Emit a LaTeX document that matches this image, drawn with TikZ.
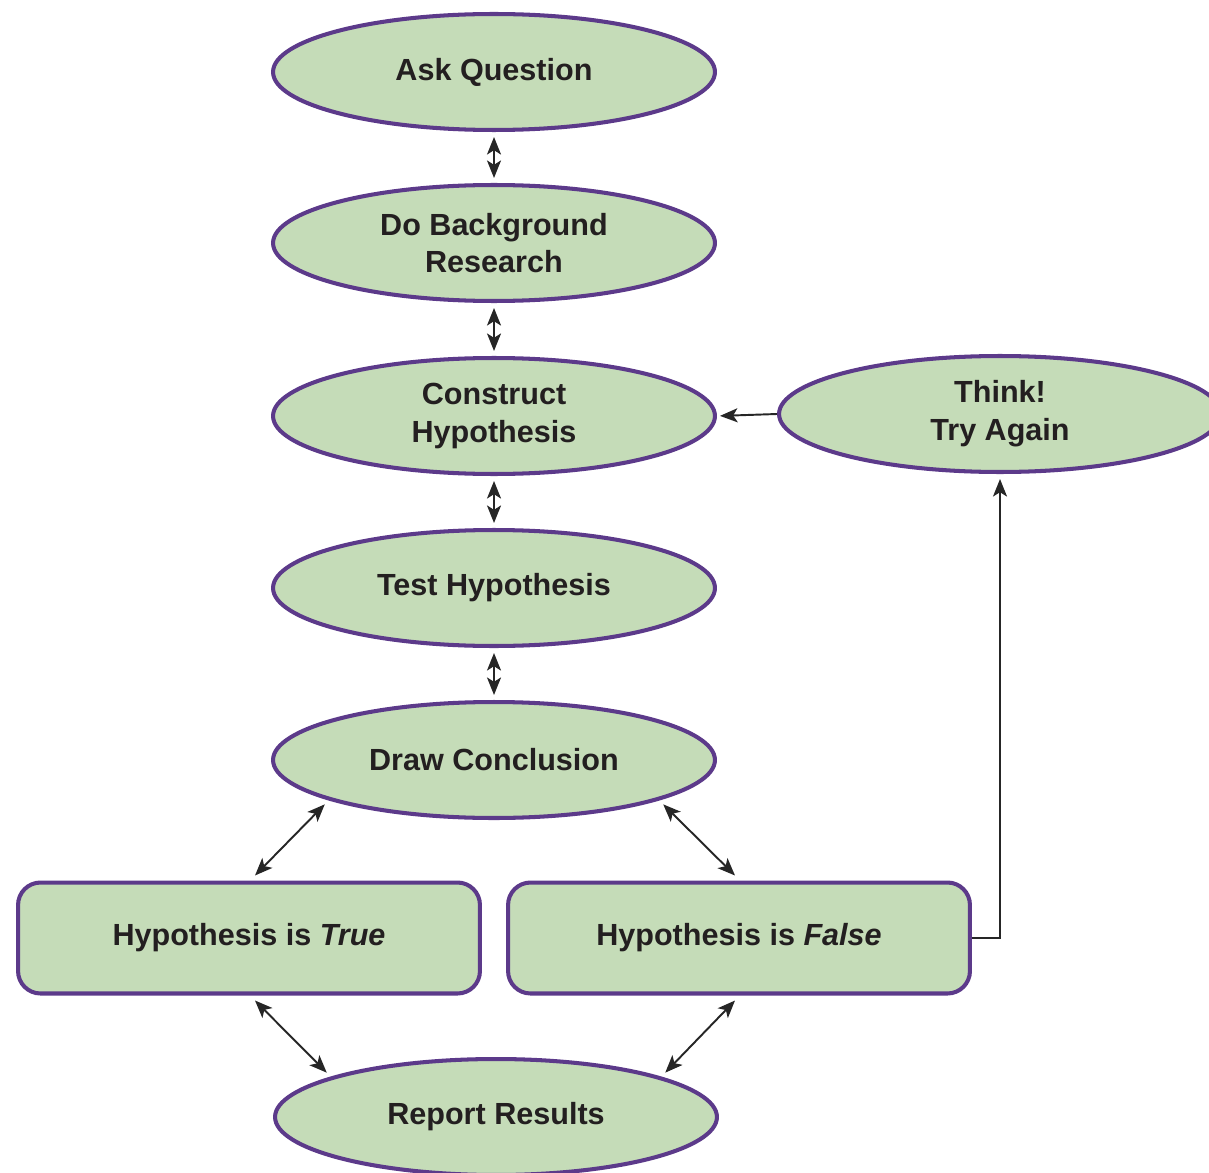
\documentclass[tikz,border=0pt]{standalone}
\usepackage{fontspec}
\setmainfont{Liberation Sans}
\usetikzlibrary{shapes.geometric, arrows.meta}
\definecolor{stagefill}{HTML}{C5DCB8}
\definecolor{stageline}{HTML}{5C3A8A}
\definecolor{inktext}{HTML}{231F20}
\tikzstyle{stage} = [ellipse, minimum width=8.84cm, minimum height=2.32cm, inner sep=0pt, text centered, align=center, draw=stageline, line width=2.3pt, fill=stagefill, text=inktext, font=\fontsize{17.4}{21.5}\selectfont\bfseries]
\tikzstyle{outcome} = [rectangle, rounded corners=0.45cm, minimum width=9.24cm, minimum height=2.22cm, text centered, draw=stageline, line width=2.3pt, fill=stagefill, text=inktext, font=\fontsize{17.4}{21.5}\selectfont\bfseries]
\tikzstyle{arrow} = [line width=1.1pt, draw=black!85, -{Stealth[length=10pt,width=8pt,inset=2.5pt]}]
\tikzstyle{dbl} = [line width=1.1pt, draw=black!85, {Stealth[length=10pt,width=8pt,inset=2.5pt]}-{Stealth[length=10pt,width=8pt,inset=2.5pt]}]

\begin{document}
\begin{tikzpicture}[x=0.02cm, y=-0.02cm]
\useasboundingbox (0,0) rectangle (1209,1172);

% objects
\node (ask) at (494,72) [stage] {Ask Question};
\node (research) at (494,243) [stage] {Do Background\\Research};
\node (construct) at (494,416) [stage] {Construct\\Hypothesis};
\node (test) at (494,588) [stage] {Test Hypothesis};
\node (conclude) at (494,760) [stage] {Draw Conclusion};
\node (think) at (1000,414) [stage] {Think!\\Try Again};

\node (true) at (249,938) [outcome] {Hypothesis is \textit{True}};
\node (false) at (739,938) [outcome] {Hypothesis is \textit{False}};

\node (report) at (496,1117) [stage] {Report Results};

% arrows
\draw [dbl, shorten <=0.1cm, shorten >=0.1cm] (ask) -- (research);
\draw [dbl, shorten <=0.1cm, shorten >=0.1cm] (research) -- (construct);
\draw [dbl, shorten <=0.1cm, shorten >=0.1cm] (construct) -- (test);
\draw [dbl, shorten <=0.1cm, shorten >=0.1cm] (test) -- (conclude);

\draw [dbl] ([yshift=-3pt]conclude.193) -- ([shift={(0.12cm,0.1cm)}]true.north);
\draw [dbl] ([yshift=-3pt]conclude.347) -- ([shift={(-0.08cm,0.1cm)}]false.north);
\draw [dbl] ([shift={(0.12cm,-0.1cm)}]true.south) -- ([yshift=3pt]report.167);
\draw [dbl] ([shift={(-0.08cm,-0.1cm)}]false.south) -- ([yshift=3pt]report.13);

\draw [arrow, shorten >=0.1cm] (false.east) -| (think.south);
\draw [arrow, shorten >=0.06cm] (think.west) -- (construct.east);

\end{tikzpicture}
\end{document}
